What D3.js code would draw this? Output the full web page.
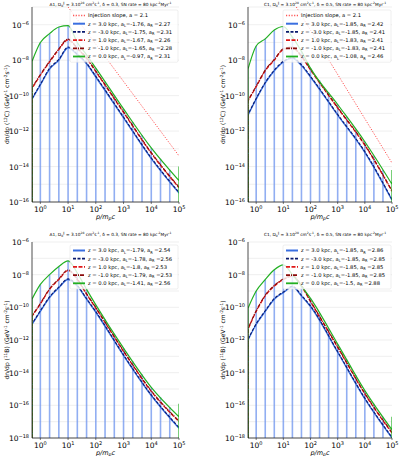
<!DOCTYPE html>
<html><head><meta charset="utf-8">
<script src="https://cdn.jsdelivr.net/npm/d3@7"></script>
<style>body{margin:0;background:#fff}svg{font-family:"DejaVu Sans",sans-serif}</style>
</head><body><div id="chart"></div>
<script>
// momentum grid (p/m_p c) and log10 curve values per panel
var xs = [0.5, 1, 2.15, 4.64, 10, 21.5, 46.4, 100, 1e3, 1e4, 1e5];
var barXs = d3.range(0, 15).map(function(k){ return Math.pow(10, k/3); });

var c12A_z3  = [-10.2,-9.4,-8.5,-8.0,-7.3,-7.7,-8.2,-8.95,-11.25,-13.55,-15.5];
var c12A_z1  = [-9.6,-8.85,-8.1,-7.4,-6.85,-7.35,-7.9,-8.65,-10.95,-13.25,-15.2];
var c12A_z0  = [-8.07,-7.0,-6.5,-6.13,-6.05,-7.0,-7.7,-8.45,-10.75,-12.95,-14.8];
var c12C_z3  = [-11.1,-10.2,-9.3,-8.6,-8.1,-7.9,-8.3,-8.95,-11.1,-13.2,-15.9];
var c12C_z1  = [-10.3,-9.5,-8.6,-8.0,-7.4,-7.3,-7.8,-8.55,-10.7,-12.8,-15.4];
var c12C_z0  = [-8.5,-7.2,-6.8,-6.3,-6.1,-6.7,-7.5,-8.45,-10.5,-12.6,-15.0];
var b11A_z3  = [-11.05,-10.25,-9.4,-8.8,-8.3,-8.7,-9.5,-10.3,-12.95,-15.4,-17.4];
var b11A_z1  = [-10.55,-9.8,-8.9,-8.3,-7.75,-8.3,-9.2,-10.05,-12.7,-15.15,-17.0];
var b11A_z0  = [-9.5,-8.6,-8.0,-7.5,-7.15,-7.9,-8.9,-9.85,-12.5,-14.9,-16.7];
var b11C_z3  = [-12.0,-11.05,-10.25,-9.5,-9.1,-8.75,-9.3,-9.95,-12.75,-15.6,-18.0];
var b11C_z1  = [-11.35,-10.25,-9.3,-8.7,-8.3,-8.1,-8.7,-9.65,-12.45,-15.3,-17.7];
var b11C_z0  = [-10.05,-9.0,-8.3,-7.7,-7.4,-8.0,-8.7,-9.45,-12.25,-15.1,-17.5];

var injA = [[10, -5.0], [1e5, -13.4]];
var injC = [[30, -5.0], [1e5, -13.8]];

var legA12 = ["z =  3.0 kpc, a_L=-1.76, a_R =2.27","z =  -3.0 kpc, a_L=-1.75, a_R =2.31","z =  1.0 kpc, a_L=-1.67, a_R =2.26","z =  -1.0 kpc, a_L=-1.65, a_R =2.28","z =  0.0 kpc, a_L=-0.97, a_R =2.31"];
var legC12 = ["z =  3.0 kpc, a_L=-1.85, a_R =2.42","z =  -3.0 kpc, a_L=-1.85, a_R =2.41","z =  1.0 kpc, a_L=-1.83, a_R =2.41","z =  -1.0 kpc, a_L=-1.83, a_R =2.41","z =  0.0 kpc, a_L=-1.08, a_R =2.46"];
var legA11 = ["z =  3.0 kpc, a_L=-1.79, a_R =2.54","z =  -3.0 kpc, a_L=-1.78, a_R =2.56","z =  1.0 kpc, a_L=-1.8, a_R =2.53","z =  -1.0 kpc, a_L=-1.79, a_R =2.53","z =  0.0 kpc, a_L=-1.41, a_R =2.56"];
var legC11 = ["z =  3.0 kpc, a_L=-1.85, a_R =2.86","z =  -3.0 kpc, a_L=-1.85, a_R =2.85","z =  1.0 kpc, a_L=-1.85, a_R =2.85","z =  -1.0 kpc, a_L=-1.85, a_R =2.85","z =  0.0 kpc, a_L=-1.5, a_R =2.88"];

var styles = [
  {c:"#3a6fe0", w:1.4, dash:null, off:0},
  {c:"#0a1a6e", w:1.1, dash:"3,1.5", off:0.04},
  {c:"#e01818", w:1.3, dash:"4,1.5", off:0},
  {c:"#8a0a0a", w:1.1, dash:"4,1,1,1", off:0.04},
  {c:"#22b022", w:1.2, dash:null, off:0}
];

var panels = [
  {x0:32, x1:179, y0:7, y1:202, ymin:-16, ymax:-5, iso:"12", title:"A1, D_0^∥ = 3.10^28 cm^2s^-1, δ = 0.3, SN rate  = 80 kpc^-2Myr^-1", curves:[c12A_z3,c12A_z1,c12A_z0], leg:legA12, inj:injA},
  {x0:248, x1:392, y0:7, y1:202, ymin:-16, ymax:-5, iso:"12", title:"C1, D_0^∥ = 3.10^28 cm^2s^-1, δ = 0.5, SN rate  = 80 kpc^-2Myr^-1", curves:[c12C_z3,c12C_z1,c12C_z0], leg:legC12, inj:injC},
  {x0:32, x1:179, y0:242, y1:438, ymin:-18, ymax:-6, iso:"11", title:"A1, D_0^∥ = 3.10^28 cm^2s^-1, δ = 0.3, SN rate  = 80 kpc^-2Myr^-1", curves:[b11A_z3,b11A_z1,b11A_z0], leg:legA11, inj:null},
  {x0:248, x1:392, y0:242, y1:438, ymin:-18, ymax:-6, iso:"11", title:"C1, D_0^∥ = 3.10^28 cm^2s^-1, δ = 0.5, SN rate  = 80 kpc^-2Myr^-1", curves:[b11C_z3,b11C_z1,b11C_z0], leg:legC11, inj:null}
];

var svg = d3.select("#chart").append("svg").attr("width", 400).attr("height", 456);

// write "a^b" and "a_b" into tspans; baseline shift is carried into the next piece
function rich(sel, str, fs) {
  var parts = str.split(/(\^-?[0-9]+|\^∥|_[A-Za-z0-9])/).filter(function(p){ return p; });
  var shift = 0;
  parts.forEach(function(p){
    var target = 0, size = fs, txt = p;
    if (p[0] === "^") { target = -fs*0.38; size = fs*0.7; txt = p.slice(1); }
    else if (p[0] === "_") { target = fs*0.25; size = fs*0.7; txt = p.slice(1); }
    sel.append("tspan").attr("dy", target - shift).attr("font-size", size).text(txt);
    shift = target;
  });
}

function interp(arr, x) {
  var lx = xs.map(Math.log10), t = Math.log10(x);
  for (var i = 0; i < lx.length - 1; i++) {
    if (t >= lx[i] && t <= lx[i+1]) return arr[i] + (arr[i+1]-arr[i])*(t-lx[i])/(lx[i+1]-lx[i]);
  }
  return arr[arr.length-1];
}

panels.forEach(function(P){
  var x = d3.scaleLog().domain([0.5, 1e5]).range([P.x0, P.x1]);
  var y = d3.scaleLinear().domain([P.ymin, P.ymax]).range([P.y1, P.y0]);
  var g = svg.append("g");
  var clipId = "clip" + P.x0 + P.y0;
  g.append("clipPath").attr("id", clipId).append("rect")
    .attr("x", P.x0).attr("y", P.y0).attr("width", P.x1-P.x0).attr("height", P.y1-P.y0);

  // grid
  g.selectAll(".grid").data(d3.range(P.ymin, P.ymax+1)).enter().append("line")
    .attr("x1", P.x0).attr("x2", P.x1).attr("y1", function(d){return y(d);}).attr("y2", function(d){return y(d);})
    .attr("stroke", "#e4e4e4").attr("stroke-width", 0.6);

  var pc = g.append("g").attr("clip-path", "url(#" + clipId + ")");
  // bars
  pc.selectAll(".bar").data(barXs).enter().append("line")
    .attr("x1", function(d){return x(d);}).attr("x2", function(d){return x(d);})
    .attr("y1", y(P.ymin)).attr("y2", function(d){return y(interp(P.curves[2], d));})
    .attr("stroke", "#6d93ee").attr("stroke-width", 1.6).attr("opacity", 0.75);

  if (P.inj) {
    pc.append("path").datum(P.inj)
      .attr("d", d3.line().x(function(d){return x(d[0]);}).y(function(d){return y(d[1]);}))
      .attr("fill", "none").attr("stroke", "#ff5555").attr("stroke-width", 1).attr("stroke-dasharray", "1.2,1.5");
  }

  var line = d3.line().x(function(d){return x(d[0]);}).y(function(d){return y(d[1]);}).curve(d3.curveMonotoneX);
  var straight = d3.line().x(function(d){return x(d[0]);}).y(function(d){return y(d[1]);});
  var curveIdx = [0, 0, 1, 1, 2];
  curveIdx.forEach(function(ci, k){
    var s = styles[k];
    var arr = P.curves[ci];
    var pts = xs.map(function(v, i){ return [v, arr[i] + s.off]; });
    var path = line(pts);
    // vertical drops at the edges
    path = straight([[0.5, P.ymin], pts[0]]) + path.slice(1).replace(/^/, "L");
    if (k === 4) path += straight([pts[pts.length-1], [1e5, arr[arr.length-1] + 0.8], [1e5, P.ymin]]).replace(/^M/, "L");
    pc.append("path").attr("d", path)
      .attr("fill", "none").attr("stroke", s.c).attr("stroke-width", s.w)
      .attr("stroke-dasharray", s.dash);
  });

  // axes frame
  g.append("line").attr("x1", P.x0).attr("x2", P.x0).attr("y1", P.y0).attr("y2", P.y1).attr("stroke", "#222").attr("stroke-width", 0.8);
  g.append("line").attr("x1", P.x0).attr("x2", P.x1).attr("y1", P.y1).attr("y2", P.y1).attr("stroke", "#222").attr("stroke-width", 0.8);

  // x ticks
  var xt = [1, 10, 100, 1e3, 1e4, 1e5];
  xt.forEach(function(v, i){
    var t = g.append("text").attr("x", x(v)).attr("y", P.y1 + 10).attr("text-anchor", "middle").attr("font-size", 7.5);
    t.append("tspan").text("10");
    t.append("tspan").attr("dy", -3).attr("font-size", 5).text(i);
    g.append("line").attr("x1", x(v)).attr("x2", x(v)).attr("y1", P.y1).attr("y2", P.y1+2).attr("stroke", "#222").attr("stroke-width", 0.6);
  });
  // y ticks
  d3.range(P.ymin, P.ymax+1, 2).forEach(function(v){
    var t = g.append("text").attr("x", P.x0 - 3).attr("y", y(v) + 3).attr("text-anchor", "end").attr("font-size", 7.5);
    t.append("tspan").text("10");
    t.append("tspan").attr("dy", -3).attr("font-size", 5).text("−" + Math.abs(v));
  });

  // labels
  var xl = g.append("text").attr("x", (P.x0+P.x1)/2).attr("y", P.y1 + 16.5).attr("text-anchor", "middle").attr("font-size", 6.5).attr("font-style", "italic");
  xl.append("tspan").text("p/m");
  xl.append("tspan").attr("dy", 1.5).attr("font-size", 4.5).text("p");
  xl.append("tspan").attr("dy", -1.5).text("c");

  var yl = g.append("text").attr("transform", "translate(" + (P.x0 - 23) + "," + ((P.y0+P.y1)/2) + ") rotate(-90)")
    .attr("text-anchor", "middle").attr("font-size", 6);
  rich(yl, "dn/dp (^" + P.iso + (P.iso === "12" ? "C" : "B") + ") (GeV^-1 cm^-2s^-1)", 6);

  var tt = g.append("text").attr("x", (P.x0+P.x1)/2 + 5).attr("y", P.y0 - (P.y0 < 20 ? 1.5 : 6)).attr("text-anchor", "middle").attr("font-size", 4.3);
  rich(tt, P.title, 4.3);

  // legend
  var rows = P.inj ? ["Injection slope, a = 2.1"].concat(P.leg) : P.leg;
  var lx0 = P.x1 - 109, ly0 = P.y0 + 3, rh = 8.2;
  g.append("rect").attr("x", lx0).attr("y", ly0).attr("width", 108).attr("height", rows.length*rh + 3)
    .attr("fill", "#fff").attr("fill-opacity", 0.8).attr("stroke", "#ddd").attr("stroke-width", 0.5).attr("rx", 1.5);
  rows.forEach(function(r, i){
    var yy = ly0 + 5.5 + i*rh;
    var s = P.inj ? (i === 0 ? {c:"#ff5555", w:1, dash:"1.2,1.5"} : styles[i-1]) : styles[i];
    g.append("line").attr("x1", lx0 + 3).attr("x2", lx0 + 15).attr("y1", yy).attr("y2", yy)
      .attr("stroke", s.c).attr("stroke-width", s.w + 0.6).attr("stroke-dasharray", s.dash);
    var t = g.append("text").attr("x", lx0 + 18).attr("y", yy + 1.8).attr("font-size", 5.2);
    rich(t, r, 5.2);
  });
});
</script></body></html>
